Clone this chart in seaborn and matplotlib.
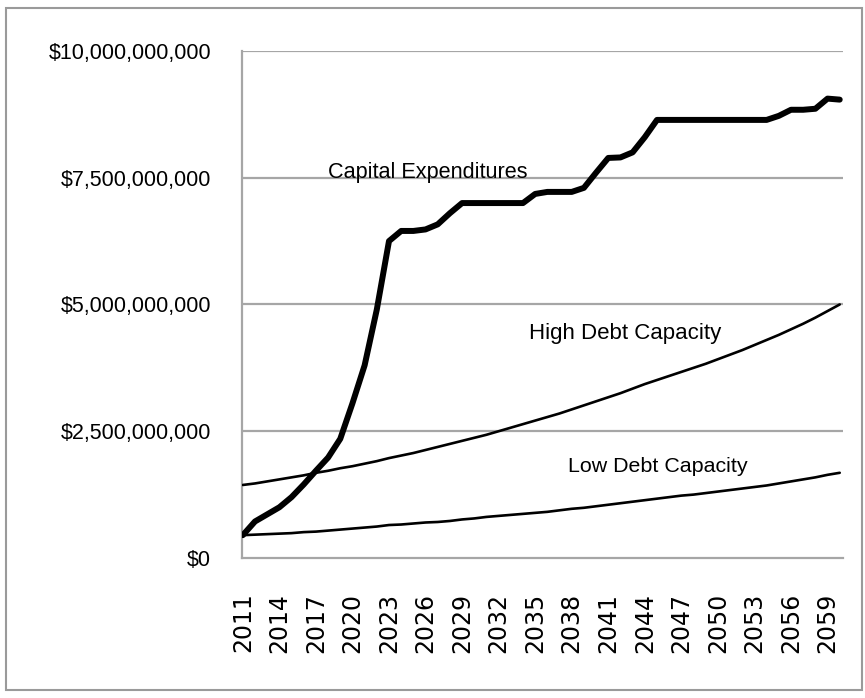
import numpy as np
import pandas as pd
import matplotlib
matplotlib.use("Agg")
import matplotlib.pyplot as plt
import seaborn as sns
from matplotlib.patches import Rectangle

# data (billions of dollars)
years = list(range(2011, 2061))
capex = [0.45, 0.72, 0.86, 1.00, 1.20, 1.45, 1.72, 1.98, 2.35, 3.05,
         3.80, 4.90, 6.25, 6.45, 6.45, 6.48, 6.58, 6.80, 7.00, 7.00,
         7.00, 7.00, 7.00, 7.00, 7.18, 7.22, 7.22, 7.22, 7.30, 7.60,
         7.89, 7.90, 8.00, 8.30, 8.64, 8.64, 8.64, 8.64, 8.64, 8.64,
         8.64, 8.64, 8.64, 8.64, 8.72, 8.84, 8.84, 8.86, 9.06, 9.04]
high_debt = [1.44, 1.47, 1.51, 1.55, 1.59, 1.63, 1.68, 1.72, 1.77, 1.81,
             1.86, 1.91, 1.97, 2.02, 2.07, 2.13, 2.19, 2.25, 2.31, 2.37,
             2.43, 2.50, 2.57, 2.64, 2.71, 2.78, 2.85, 2.93, 3.01, 3.09,
             3.17, 3.25, 3.34, 3.43, 3.51, 3.59, 3.67, 3.75, 3.83, 3.92,
             4.01, 4.10, 4.20, 4.30, 4.40, 4.51, 4.62, 4.74, 4.87, 5.00]
low_debt = [0.45, 0.46, 0.47, 0.48, 0.49, 0.51, 0.52, 0.54, 0.56, 0.58,
            0.60, 0.62, 0.65, 0.66, 0.68, 0.70, 0.71, 0.73, 0.76, 0.78,
            0.81, 0.83, 0.85, 0.87, 0.89, 0.91, 0.94, 0.97, 0.99, 1.02,
            1.05, 1.08, 1.11, 1.14, 1.17, 1.20, 1.23, 1.25, 1.28, 1.31,
            1.34, 1.37, 1.40, 1.43, 1.47, 1.51, 1.55, 1.59, 1.64, 1.68]
y_ticks = [0, 2.5, 5.0, 7.5, 10.0]
y_labels = ["$0", "$2,500,000,000", "$5,000,000,000", "$7,500,000,000", "$10,000,000,000"]
label_years = list(range(2011, 2060, 3))

df = pd.DataFrame({"year": years, "capex": capex, "high": high_debt, "low": low_debt})

sns.set_style("white")
plt.rcParams["font.family"] = ["Liberation Sans", "DejaVu Sans"]
plt.rcParams["text.color"] = "black"
plt.rcParams["xtick.labelcolor"] = "black"
plt.rcParams["ytick.labelcolor"] = "black"

fig = plt.figure(figsize=(8.65, 6.98), dpi=100)
ax = fig.add_axes([0.280, 0.2006, 0.695, 0.7264])

grid_c = "#a6a6a6"
for v in y_ticks[1:]:
    ax.axhline(v, color=grid_c, lw=1.6, zorder=1)

sns.lineplot(data=df, x="year", y="low", color="black", lw=1.9, ax=ax, zorder=3)
sns.lineplot(data=df, x="year", y="high", color="black", lw=1.9, ax=ax, zorder=3)
sns.lineplot(data=df, x="year", y="capex", color="black", lw=4.3, ax=ax, zorder=4)

ax.set_xlim(2010.95, 2060.3)
ax.set_ylim(0, 10)
ax.set_xlabel("")
ax.set_ylabel("")

ax.set_yticks(y_ticks)
ax.set_yticklabels(y_labels, fontsize=15.5)
ax.set_xticks(years)
ax.set_xticklabels([str(y) if y in label_years else "" for y in years],
                   rotation=90, fontsize=17, family="DejaVu Sans")
ax.tick_params(axis="y", length=6.5, width=1.5, color=grid_c, pad=16)
ax.tick_params(axis="x", length=8, width=1.2, color=grid_c, pad=17)

for s in ["top", "right"]:
    ax.spines[s].set_visible(False)
for s in ["left", "bottom"]:
    ax.spines[s].set_color(grid_c)
    ax.spines[s].set_linewidth(1.6)

ax.text(2026.2, 7.60, "Capital Expenditures", ha="center", va="center", fontsize=15.6)
ax.text(2042.4, 4.42, "High Debt Capacity", ha="center", va="center", fontsize=16)
ax.text(2045.1, 1.80, "Low Debt Capacity", ha="center", va="center", fontsize=15.4)

fig.patches.append(Rectangle((6 / 865, 8 / 698), 856 / 865, 682 / 698, transform=fig.transFigure,
                             fill=False, edgecolor="#9a9a9a", lw=1.5))

fig.savefig("out.png", dpi=100, facecolor="white")
